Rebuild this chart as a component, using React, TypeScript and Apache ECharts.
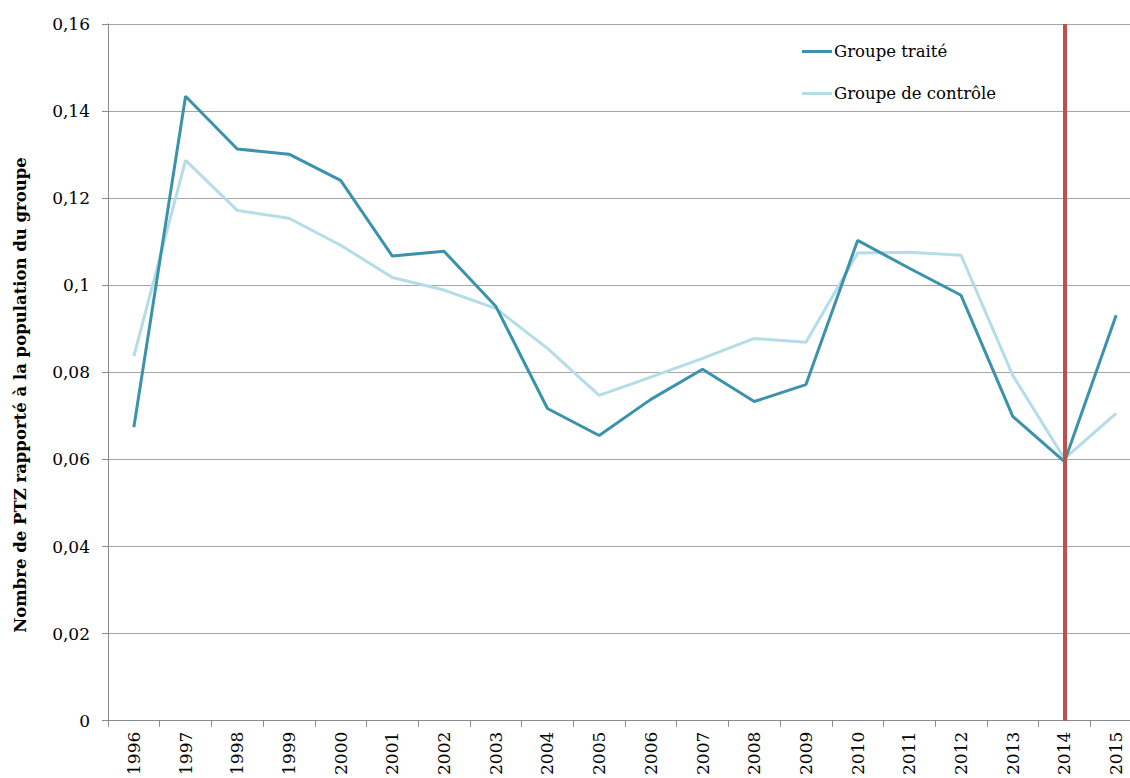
import React, { useEffect, useRef } from "react";
import * as echarts from "echarts";

const years = ["1996","1997","1998","1999","2000","2001","2002","2003","2004","2005","2006","2007","2008","2009","2010","2011","2012","2013","2014","2015"];
const treated = [0.0674,0.1434,0.1313,0.1301,0.1241,0.1067,0.1078,0.0952,0.0717,0.0655,0.0738,0.0807,0.0733,0.0772,0.1103,0.1039,0.0977,0.0699,0.0595,0.0931];
const control = [0.0837,0.1287,0.1172,0.1154,0.1092,0.1018,0.0989,0.0947,0.0855,0.0747,0.0789,0.0832,0.0878,0.0869,0.1074,0.1076,0.1069,0.0793,0.0602,0.0706];
const reformYear = "2014";
const yTitle = "Nombre de PTZ rapporté à la population du groupe";

const FONT = "DejaVu Serif";

export default function App() {
  const ref = useRef<HTMLDivElement>(null);
  useEffect(() => {
    const chart = echarts.init(ref.current!, null, { renderer: "svg" });
    chart.setOption({
      animation: false,
      backgroundColor: "#ffffff",
      textStyle: { fontFamily: FONT, color: "#000" },
      grid: { left: 108, right: 8, top: 24, bottom: 57, containLabel: false },
      legend: {
        orient: "vertical",
        left: 797,
        top: 38,
        itemWidth: 30,
        itemHeight: 3,
        itemGap: 25,
        icon: "rect",
        textStyle: { fontFamily: FONT, fontSize: 16.5, color: "#000", padding: [0, 0, 0, -3] },
        data: ["Groupe traité", "Groupe de contrôle"],
      },
      xAxis: {
        type: "category",
        data: years,
        boundaryGap: true,
        axisLine: { lineStyle: { color: "#8a8a8a", width: 1 } },
        axisTick: { show: true, length: 6, lineStyle: { color: "#8a8a8a" } },
        axisLabel: { rotate: 90, margin: 11, fontFamily: FONT, fontSize: 17, color: "#000", interval: 0 },
        splitLine: { show: false },
      },
      yAxis: {
        type: "value",
        min: 0,
        max: 0.16,
        interval: 0.02,
        axisLine: { show: true, lineStyle: { color: "#8a8a8a", width: 1 } },
        axisTick: { show: true, length: 6, lineStyle: { color: "#8a8a8a" } },
        axisLabel: {
          margin: 18,
          fontFamily: FONT,
          fontSize: 17,
          color: "#000",
          formatter: (v: number) => String(Math.round(v * 100) / 100).replace(".", ","),
        },
        splitLine: { show: true, lineStyle: { color: "#a6a6a6", width: 1 } },
      },
      graphic: [
        {
          type: "text",
          x: 20,
          y: 395,
          rotation: Math.PI / 2,
          style: {
            text: yTitle,
            fontFamily: FONT,
            fontSize: 16.5,
            fontWeight: "bold",
            fill: "#000",
            align: "center",
            verticalAlign: "middle",
          },
        },
      ],
      series: [
        {
          name: "Groupe traité",
          type: "line",
          data: treated,
          symbol: "none",
          itemStyle: { color: "#3a93aa" },
          lineStyle: { color: "#3a93aa", width: 3 },
          z: 3,
        },
        {
          name: "Groupe de contrôle",
          type: "line",
          data: control,
          symbol: "none",
          itemStyle: { color: "#b4dde8" },
          lineStyle: { color: "#b4dde8", width: 3 },
          z: 2,
          markLine: {
            silent: true,
            symbol: "none",
            label: { show: false },
            lineStyle: { color: "#c0504d", width: 4, type: "solid" },
            data: [{ xAxis: reformYear }],
            z: 5,
          },
        },
      ],
    });
    return () => chart.dispose();
  }, []);
  return (
    <div
      ref={ref}
      style={{ position: "absolute", left: 0, top: 0, width: 1150, height: 778 }}
    />
  );
}
